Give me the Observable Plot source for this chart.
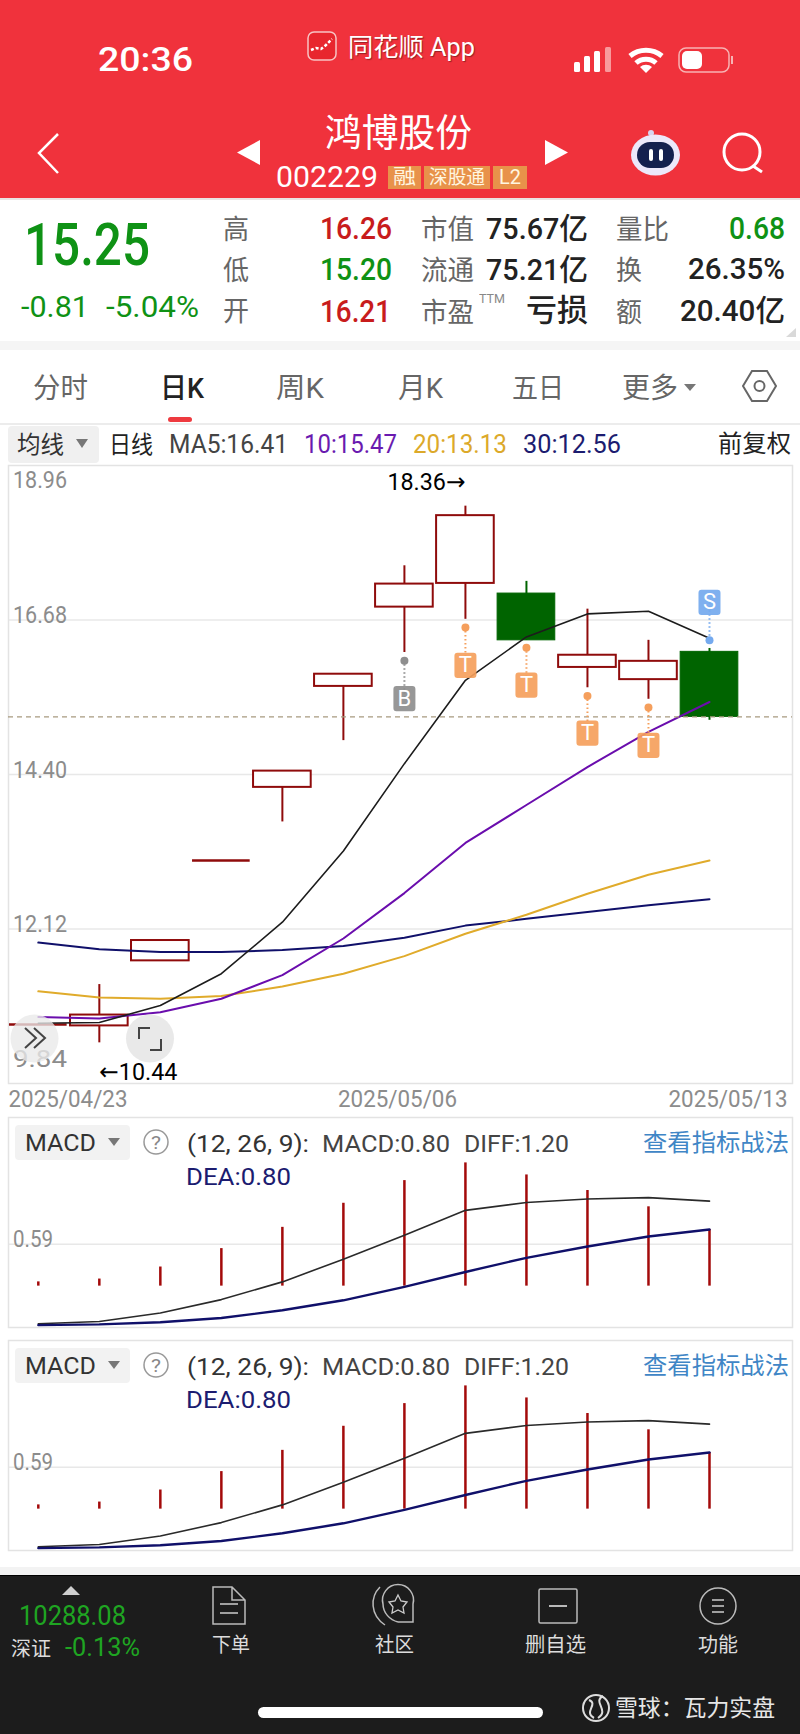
<!DOCTYPE html>
<html lang="zh">
<head>
<meta charset="utf-8">
<script src="https://cdn.jsdelivr.net/npm/d3@7"></script>
<script src="https://cdn.jsdelivr.net/npm/@observablehq/plot@0.6"></script>
<style>
html,body{margin:0;padding:0;background:#fff}
#page{position:relative;width:800px;height:1734px;overflow:hidden;background:#fff;font-family:Roboto,"Noto Sans CJK SC",sans-serif}
.blk{position:absolute}
.tx{position:absolute;white-space:nowrap;line-height:1;transform-origin:0 50%}
.chart{position:absolute;left:0;overflow:visible}
#chrome{position:absolute;left:0;top:0;pointer-events:none}
</style>
</head>
<body>
<div id="page"></div>
<script>
// ---------- chart data ----------
const dates = ["2025/04/23","2025/04/24","2025/04/25","2025/04/28","2025/04/29","2025/04/30","2025/05/06","2025/05/07","2025/05/08","2025/05/09","2025/05/12","2025/05/13"];
const opens  = [10.71,10.69,11.65,13.13,14.21,15.70,16.87,17.22,17.07,15.98,15.80,16.21];
const closes = [10.71,10.85,11.95,13.13,14.45,15.88,17.21,18.22,16.38,16.16,16.07,15.25];
const highs  = [10.71,11.30,11.95,13.13,14.45,15.88,17.48,18.36,17.25,16.84,16.38,16.26];
const lows   = [10.71,10.44,11.65,13.13,13.70,14.90,16.20,16.69,16.38,15.68,15.51,15.20];
const ma5  = [10.73,10.74,10.99,11.46,12.22,13.27,14.56,15.79,16.43,16.77,16.81,16.41];
const ma10 = [10.82,10.80,10.89,11.09,11.44,11.98,12.65,13.39,13.95,14.51,15.03,15.47];
const ma20 = [11.20,11.11,11.09,11.13,11.27,11.46,11.72,12.05,12.33,12.64,12.92,13.13];
const ma30 = [11.92,11.82,11.78,11.78,11.81,11.87,11.99,12.17,12.27,12.37,12.47,12.56];
const priceTicks = [9.84,12.12,14.40,16.68,18.96];
const lastPrice = 15.25;
const highLabel = "18.36→";
const lowLabel = "←10.44";
const markDates = [dates[6],dates[7],dates[8],dates[9],dates[10],dates[11]];
const markKinds = ["B","T","T","T","T","S"];
const markDots  = [16.08,16.57,16.27,15.56,15.39,16.38];
const markTags  = [15.52,16.01,15.72,15.01,14.83,16.94];
const macdBars = [0.06,0.10,0.27,0.53,0.83,1.17,1.49,1.74,1.57,1.35,1.12,0.80];
const diffLine = [-0.53,-0.50,-0.38,-0.19,0.06,0.38,0.72,1.07,1.18,1.23,1.25,1.20];
const deaLine  = [-0.55,-0.54,-0.51,-0.45,-0.34,-0.20,-0.01,0.20,0.40,0.56,0.70,0.80];
const macdTick = 0.59;

// ---------- page helpers ----------
const page = document.getElementById("page");
const FONT = 'Roboto,"Noto Sans CJK SC",sans-serif';
function blk(x,y,w,h,bg,extra=""){const d=document.createElement("div");d.className="blk";d.style.cssText=`left:${x}px;top:${y}px;width:${w}px;height:${h}px;background:${bg};${extra}`;page.appendChild(d);return d;}
function tx(x1,x2,yc,s,size,color,weight=400,extra=""){
  const d=document.createElement("div");d.className="tx";d.textContent=s;
  d.style.cssText=`left:${x1}px;top:${yc-size/2}px;font-size:${size}px;color:${color};font-weight:${weight};z-index:5;${extra}`;
  page.appendChild(d);
  const w=d.getBoundingClientRect().width;
  if(w>0) d.style.transform=`scaleX(${(x2-x1)/w})`;
  return d;
}
// the reference's narrow app font: squeeze long chart labels to the widths seen in it
function narrow(plot){
  plot.querySelectorAll("text").forEach(t=>{
    const s=t.textContent;
    if(s.length<2) return;
    const target = s.includes("/")?119 : /[→←]/.test(s)?78 : s==="0.59"?40 : 54;
    t.setAttribute("textLength",target);
    t.setAttribute("lengthAdjust","spacingAndGlyphs");
  });
}

// ---------- backgrounds ----------
blk(0,0,800,198,"#f0323c");
blk(0,198,800,2,"#e9e4e4");
blk(0,341,800,9,"#f5f5f5");
blk(0,423,800,1.5,"#ececec");
blk(8,426,91,37,"#f0f0f0","border-radius:4px");
blk(0,1567,800,8,"#f3f3f3");
blk(0,1575,800,159,"#1c1c1c");
blk(0,1575,800,1,"#000");

// ---------- main candlestick chart ----------
const candles = dates.map((date,i)=>({date,open:opens[i],close:closes[i],high:highs[i],low:lows[i]}));
const up = candles.filter(d=>d.close>d.open);
const down = candles.filter(d=>d.close<d.open);
const flat = candles.filter(d=>d.close===d.open);
const RED="#8f0b0b", GREEN="#006400", GREY="#8c8c8c";
const toSeries=(arr)=>dates.map((date,i)=>({date,v:arr[i]}));
const markers = markDates.map((date,i)=>({date,kind:markKinds[i],dot:markDots[i],tag:markTags[i]}));
const tagSymbol = {draw(ctx,size){
  const w=Math.sqrt(size/Math.PI), h=w*1.15, r=3;
  ctx.moveTo(-w+r,-h);ctx.lineTo(w-r,-h);ctx.arcTo(w,-h,w,-h+r,r);ctx.lineTo(w,h-r);ctx.arcTo(w,h,w-r,h,r);
  ctx.lineTo(-w+r,h);ctx.arcTo(-w,h,-w,h-r,r);ctx.lineTo(-w,-h+r);ctx.arcTo(-w,-h,-w+r,-h,r);ctx.closePath();
}};
const xBand = {type:"band",domain:dates,range:[7.3,739.5],paddingInner:0.055,paddingOuter:0.0275,round:false,axis:null};
const tickText = {text:d=>d.toFixed(2),frameAnchor:"left",textAnchor:"start",dx:4.5,fontSize:23.5,fill:GREY};
const dateText = {lineAnchor:"middle",text:d=>d,dy:16,fontSize:23,fill:GREY};
const mainPlot = Plot.plot({
  width:800,height:660,marginTop:10,marginBottom:32,marginLeft:8,marginRight:8,
  style:{background:"transparent",fontFamily:FONT,overflow:"visible"},
  x:xBand,
  y:{domain:[9.84,18.96],axis:null},
  color:{domain:["B","T","S"],range:["#8e8e8e","#f59f5c","#74a9ee"]},
  marks:[
    Plot.ruleY(priceTicks.slice(1,-1),{stroke:"#e8e8e8",strokeWidth:1.5}),
    Plot.frame({stroke:"#e3e3e3",strokeWidth:1.5}),
    Plot.text(priceTicks.slice(1,-1),{...tickText,y:d=>d,dy:-4.5}),
    Plot.text([priceTicks[4]],{...tickText,y:d=>d,dy:15}),
    Plot.text([priceTicks[0]],{...tickText,y:d=>d,dy:-24}),
    Plot.ruleX(up,{x:"date",y1:"low",y2:"high",stroke:RED,strokeWidth:2}),
    Plot.ruleX(down,{x:"date",y1:"low",y2:"high",stroke:GREEN,strokeWidth:2}),
    Plot.barY(up,{x:"date",y1:"open",y2:"close",fill:"#fff",stroke:RED,strokeWidth:2}),
    Plot.barY(down,{x:"date",y1:"open",y2:"close",fill:GREEN,stroke:GREEN,strokeWidth:1}),
    Plot.tickY(flat,{x:"date",y:"close",stroke:RED,strokeWidth:2.5}),
    Plot.line(toSeries(ma30),{x:"date",y:"v",stroke:"#10106a",strokeWidth:2}),
    Plot.line(toSeries(ma20),{x:"date",y:"v",stroke:"#e0ab2b",strokeWidth:2}),
    Plot.line(toSeries(ma10),{x:"date",y:"v",stroke:"#6a0dad",strokeWidth:2}),
    Plot.line(toSeries(ma5),{x:"date",y:"v",stroke:"#1c1c1c",strokeWidth:1.6}),
    Plot.ruleY([lastPrice],{stroke:"#a89a80",strokeWidth:1.4,strokeDasharray:"5 4"}),
    Plot.ruleX(markers,{x:"date",y1:"dot",y2:"tag",stroke:"kind",strokeWidth:2,strokeDasharray:"1.5 2.5"}),
    Plot.dot(markers,{x:"date",y:"dot",r:4,fill:"kind"}),
    Plot.dot(markers,{x:"date",y:"tag",r:11,fill:"kind",symbol:()=>tagSymbol,fillOpacity:0.92}),
    Plot.text(markers,{x:"date",y:"tag",text:"kind",fill:"#fff",fontSize:22}),
    Plot.text([highLabel],{x:()=>dates[7],y:()=>highs[7],text:d=>d,textAnchor:"end",dy:-23.5,fontSize:24,fill:"#000",fontFamily:'Roboto,"DejaVu Sans"'}),
    Plot.text([lowLabel],{x:()=>dates[1],y:()=>lows[1],text:d=>d,textAnchor:"start",dy:29,fontSize:24,fill:"#000",fontFamily:'Roboto,"DejaVu Sans"'}),
    Plot.text([dates[0]],{...dateText,frameAnchor:"bottom-left",textAnchor:"start"}),
    Plot.text([dates[6]],{...dateText,frameAnchor:"bottom",dx:-3}),
    Plot.text([dates[11]],{...dateText,frameAnchor:"bottom-right",textAnchor:"end",dx:-5})
  ]
});
mainPlot.classList.add("chart");mainPlot.style.top="455px";page.appendChild(mainPlot);
narrow(mainPlot);

// ---------- MACD panels ----------
function macdPlot(top){
  const p = Plot.plot({
    width:800,height:220,marginTop:5,marginBottom:5,marginLeft:8,marginRight:8,
    style:{background:"transparent",fontFamily:FONT,overflow:"visible"},
    x:xBand,
    y:{domain:[-0.584,2.381],axis:null},
    marks:[
      Plot.ruleY([macdTick],{stroke:"#e8e8e8",strokeWidth:1.5}),
      Plot.frame({stroke:"#e3e3e3",strokeWidth:1.5}),
      Plot.text([macdTick],{...tickText,y:d=>d,dy:-4.5}),
      Plot.ruleX(toSeries(macdBars),{x:"date",y1:()=>0,y2:"v",stroke:"#a30a0a",strokeWidth:2.5}),
      Plot.line(toSeries(diffLine),{x:"date",y:"v",stroke:"#2a2a2a",strokeWidth:1.6}),
      Plot.line(toSeries(deaLine),{x:"date",y:"v",stroke:"#10106a",strokeWidth:2.4})
    ]
  });
  p.classList.add("chart");p.style.top=top+"px";page.appendChild(p);
  narrow(p);
}
macdPlot(1112);
macdPlot(1335);

// ---------- status bar and header text ----------
tx(98,193,59,"20:36",33,"#fff",500);
tx(348,475,47,"同花顺 App",25,"#fff",400,"text-shadow:1px 1px 1px rgba(90,20,20,.6)");
tx(325,472,133,"鸿博股份",38,"#fff");
tx(276,378,177,"002229",29,"#fff");
tx(393,416,177,"融",20,"#fff6e0");
tx(429,485,177,"深股通",19,"#fff6e0");
tx(499,521,177,"L2",20,"#fff6e0");

// ---------- stats ----------
const rows=[228,269,311], G="#0f9215", R="#c81c1c", K="#222", S="#666";
tx(24,150,245,"15.25",60,G,500);
tx(21,89,307,"-0.81",30,G);
tx(106,199,307,"-5.04%",30,G);
tx(223,249,rows[0]+2,"高",27,S);tx(223,249,rows[1]+2,"低",27,S);tx(223,249,rows[2]+1,"开",27,S);
tx(320,392,rows[0],"16.26",32,R,500);tx(320,392,rows[1],"15.20",32,G,500);tx(320,391,rows[2],"16.21",32,R,500);
tx(421,474,rows[0]+2,"市值",27,S);tx(421,474,rows[1]+2,"流通",27,S);tx(421,474,rows[2]+2,"市盈",27,S);
tx(479,505,299,"TTM",12,"#888");
tx(486,588,rows[0]+1,"75.67亿",30,K,500);tx(486,588,rows[1]+1,"75.21亿",30,K,500);tx(526,588,rows[2]-1,"亏损",31,K,500);
tx(616,669,rows[0]+2,"量比",27,S);tx(616,642,rows[1]+2,"换",27,S);tx(616,642,rows[2]+2,"额",27,S);
tx(729,785,rows[0],"0.68",32,G,500);tx(688,785,rows[1],"26.35%",30,K,500);tx(680,785,rows[2],"20.40亿",30,K,500);

// ---------- tabs ----------
tx(33,88,389,"分时",28,"#666");
tx(160,204,389,"日K",28,"#222",500);
tx(276,324,389,"周K",28,"#666");
tx(398,443,389,"月K",28,"#666");
tx(512,564,389,"五日",28,"#666");
tx(622,678,389,"更多",28,"#666");
blk(168,417,24,5,"#ee3a3f","border-radius:3px");

// ---------- MA legend ----------
tx(17,64,445,"均线",24,"#333");
tx(109,153,445,"日线",24,"#222");
tx(169,288,444,"MA5:16.41",25,"#444");
tx(304,397,444,"10:15.47",25,"#6a1ab0");
tx(413,507,444,"20:13.13",25,"#dca92a");
tx(523,621,444,"30:12.56",25,"#1c1c70");
tx(718,791,444,"前复权",24,"#222");

// ---------- MACD legends ----------
[0,223].forEach(o=>{
  blk(15,1125+o,115,35,"#f2f2f2","border-radius:4px");
  tx(25,96,1143+o,"MACD",24,"#333");
  tx(151,161,1143+o,"?",18,"#888");
  tx(187,309,1144+o,"(12, 26, 9):",24,"#333");
  tx(322,450,1144+o,"MACD:0.80",24,"#444");
  tx(464,569,1144+o,"DIFF:1.20",24,"#444");
  tx(186,291,1177+o,"DEA:0.80",24,"#1c1c70");
  tx(643,789,1143+o,"查看指标战法",24,"#3f86c6");
});

// ---------- bottom bar ----------
tx(19,126,1616,"10288.08",28,"#1fa522");
tx(11,51,1649,"深证",20,"#ddd");
tx(65,140,1647,"-0.13%",25,"#1fa522");
tx(212,250,1645,"下单",20,"#ddd");
tx(375,414,1645,"社区",20,"#ddd");
tx(525,586,1645,"删自选",20,"#ddd");
tx(698,738,1645,"功能",20,"#ddd");
tx(615,775,1708,"雪球：瓦力实盘",23,"#e6e6e6");

// ---------- icons ----------
const chrome = `
<svg id="chrome" width="800" height="1734" viewBox="0 0 800 1734" xmlns="http://www.w3.org/2000/svg" fill="none">
 <rect x="308" y="32" width="28" height="28" rx="6" fill="#e8262e" stroke="#f7c4c4" stroke-width="1.500"/>
 <path d="M311 50l5-2 5 1 5-4 6-6" stroke="#fff" stroke-width="2.500" stroke-dasharray="3 2"/>
 <rect x="574" y="62" width="6" height="10" rx="1.500" fill="#fff"/>
 <rect x="584" y="56" width="6" height="16" rx="1.500" fill="#fff"/>
 <rect x="594" y="51" width="6" height="21" rx="1.500" fill="#fff"/>
 <rect x="605" y="47" width="6" height="25" rx="1.500" fill="#f89a9c"/>
 <path d="M630 56a25 25 0 0 1 32 0" stroke="#fff" stroke-width="5"/>
 <path d="M636 63a15 15 0 0 1 20 0" stroke="#fff" stroke-width="5"/>
 <path d="M646 73l-6-6a9 9 0 0 1 12 0z" fill="#fff"/>
 <rect x="679" y="48" width="50" height="24" rx="7" stroke="#f7b3b3" stroke-width="1.500"/>
 <rect x="682" y="51" width="20" height="18" rx="5" fill="#fff"/>
 <path d="M732 56v8" stroke="#f7b3b3" stroke-width="2"/>
 <path d="M58 134L39 153l19 20" stroke="#fff" stroke-width="2.500"/>
 <path d="M260 140v25l-23-12.500z" fill="#fff"/>
 <path d="M545 140v25l23-12.500z" fill="#fff"/>
 <circle cx="651" cy="133" r="3" fill="#d8d4f0"/>
 <path d="M652 135l1 5" stroke="#d8d4f0" stroke-width="2"/>
 <ellipse cx="655.500" cy="155" rx="24.500" ry="20.500" fill="#ece8fa"/>
 <rect x="637" y="142" width="37" height="26" rx="13" fill="#14204e"/>
 <rect x="649" y="149" width="4" height="12" rx="2" fill="#fff"/>
 <rect x="659" y="149" width="4" height="12" rx="2" fill="#fff"/>
 <circle cx="742" cy="152" r="18" stroke="#fff" stroke-width="3"/>
 <path d="M753 166l9 6" stroke="#fff" stroke-width="3"/>
 <path d="M796 328v9h-10z" fill="#d9d9d9"/>
 <path d="M684 384h12l-6 7z" fill="#777"/>
 <path d="M752 371h15l9 15-9 15h-15l-9-15z" stroke="#666" stroke-width="2"/>
 <circle cx="759.500" cy="386" r="5" stroke="#666" stroke-width="2"/>
 <path d="M76 439h12l-6 9z" fill="#777"/>
 <circle cx="34.500" cy="1038.500" r="24" fill="#e9e9e9" fill-opacity="0.78"/>
 <path d="M25 1028l11 10-11 10M34 1028l11 10-11 10" stroke="#444" stroke-width="2"/>
 <circle cx="150" cy="1038.500" r="24" fill="#e9e9e9"/>
 <path d="M139 1039v-11h11M161 1039v11h-11" stroke="#444" stroke-width="2"/>
 <path d="M108 1138h12l-6 8z" fill="#777"/>
 <circle cx="156" cy="1142" r="12" stroke="#999" stroke-width="1.500"/>
 <path d="M108 1361h12l-6 8z" fill="#777"/>
 <circle cx="156" cy="1365" r="12" stroke="#999" stroke-width="1.500"/>
 <path d="M71 1586l9 9H62z" fill="#cfcfcf"/>
 <path d="M213 1587h19l13 13v24h-32z M232 1587v13h13" stroke="#bbb" stroke-width="1.500"/>
 <path d="M220 1604h18M220 1613h18" stroke="#ccc" stroke-width="1.500"/>
 <path d="M398 1622H413V1604A15.500 15.500 0 1 0 383 1604C383 1613 390 1620 398 1622" stroke="#bbb" stroke-width="1.500"/>
 <path d="M380 1587C370 1597 370 1615 385 1625" stroke="#bbb" stroke-width="1.500"/>
 <path d="M398 1595l3 6 6 1-4 5 1 6-6-3-6 3 1-6-4-5 6-1z" stroke="#ccc" stroke-width="1.300"/>
 <rect x="539" y="1589" width="38" height="34" rx="1.500" stroke="#bbb" stroke-width="1.500"/>
 <path d="M549 1606h18" stroke="#ccc" stroke-width="1.800"/>
 <circle cx="718" cy="1606" r="18" stroke="#bbb" stroke-width="1.500"/>
 <path d="M712 1600h12M712 1606h12M712 1612h12" stroke="#ccc" stroke-width="1.500"/>
 <rect x="258" y="1707" width="285" height="11" rx="5.500" fill="#fff"/>
 <circle cx="596" cy="1708" r="13" stroke="#ddd" stroke-width="2"/>
 <path d="M589 1700c10 4-6 12 5 18M603 1696c-11 6 7 14-5 22" stroke="#ddd" stroke-width="2"/>
</svg>`;
page.insertAdjacentHTML("beforeend",chrome);
[[388,166,33,23],[424,166,66,23],[493,166,34,23]].forEach(([x,y,w,h])=>blk(x,y,w,h,"#e8924a","z-index:1"));
</script>
</body>
</html>
